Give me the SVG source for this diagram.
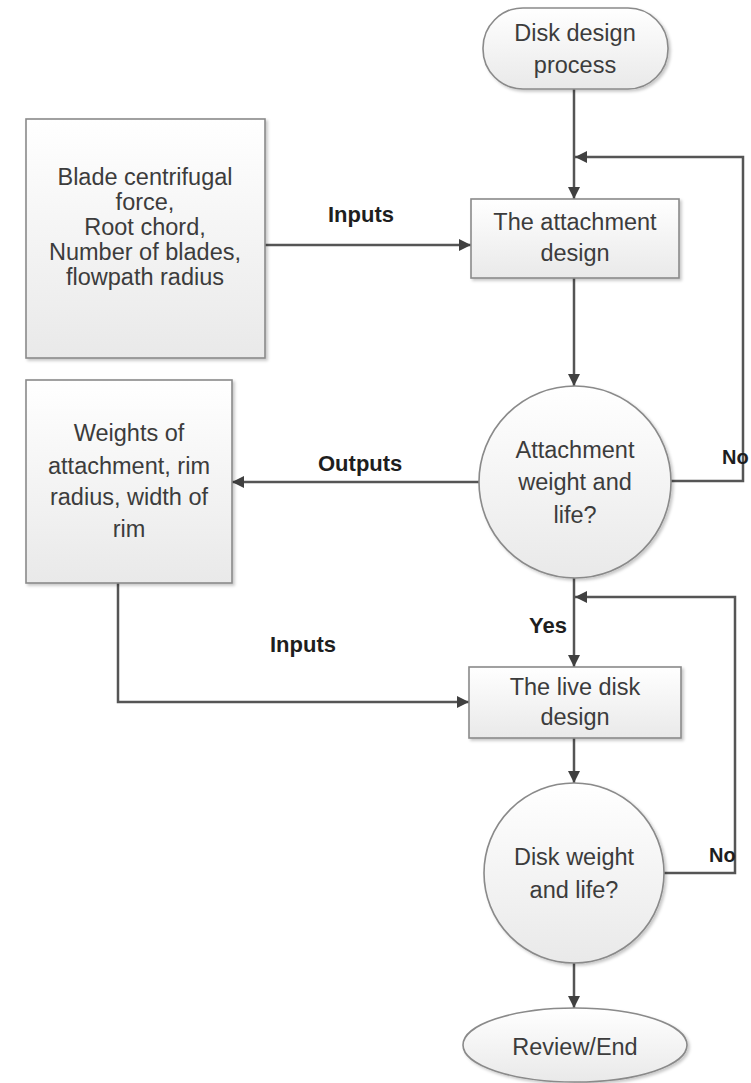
<svg xmlns="http://www.w3.org/2000/svg" width="751" height="1083" viewBox="0 0 751 1083">
<defs>
<linearGradient id="g" x1="0" y1="0" x2="0" y2="1">
<stop offset="0" stop-color="#ffffff"/>
<stop offset="1" stop-color="#e9e9e9"/>
</linearGradient>
<filter id="sh" x="-10%" y="-10%" width="125%" height="125%">
<feDropShadow dx="2" dy="2" stdDeviation="1.5" flood-color="#000" flood-opacity="0.22"/>
</filter>
<marker id="arr" viewBox="0 0 10 10" refX="10" refY="5" markerWidth="12" markerHeight="12" markerUnits="userSpaceOnUse" orient="auto">
<path d="M0,0 L10,5 L0,10 z" fill="#404040"/>
</marker>
</defs>
<style>
.n{fill:url(#g);stroke:#8a8a8a;stroke-width:1.6;filter:url(#sh)}
.t{font-family:"Liberation Sans",Arial,sans-serif;font-size:23.5px;fill:#3c3c3c;text-anchor:middle}
.l{font-family:"Liberation Sans",Arial,sans-serif;font-size:22px;font-weight:bold;fill:#1e1e1e}
.c{fill:none;stroke:#555555;stroke-width:2.5;marker-end:url(#arr)}
</style>
<rect width="751" height="1083" fill="#ffffff"/>
<g id="connectors">
<path class="c" d="M574,89 V199"/>
<path class="c" d="M671,481 H743 V157 H575"/>
<path class="c" d="M265,245 H471"/>
<path class="c" d="M574,278 V386"/>
<path class="c" d="M479,482 H232"/>
<path class="c" d="M118,577 V702 H469"/>
<path class="c" d="M574,577 V667"/>
<path class="c" d="M664,873 H735 V597 H575"/>
<path class="c" d="M574,738 V783"/>
<path class="c" d="M574,963 V1008"/>
</g>
<g id="labels">
<text class="l" x="328" y="222">Inputs</text>
<text class="l" x="318" y="471">Outputs</text>
<text class="l" x="722" y="464" style="font-size:20px">No</text>
<text class="l" x="270" y="652">Inputs</text>
<text class="l" x="529" y="633">Yes</text>
<text class="l" x="709" y="862" style="font-size:20px">No</text>
</g>
<g id="start">
<rect class="n" x="483" y="8" width="185" height="81" rx="40" ry="40"/>
<text class="t" x="575" y="41">Disk design</text>
<text class="t" x="575" y="73">process</text>
</g>
<g id="attachment-design">
<rect class="n" x="471" y="199" width="208" height="79"/>
<text class="t" x="575" y="230">The attachment</text>
<text class="t" x="575" y="261">design</text>
</g>
<g id="inputs-1">
<rect class="n" x="26" y="119" width="239" height="239"/>
<text class="t" x="145" y="185">Blade centrifugal</text>
<text class="t" x="145" y="210">force,</text>
<text class="t" x="145" y="235">Root chord,</text>
<text class="t" x="145" y="260">Number of blades,</text>
<text class="t" x="145" y="285">flowpath radius</text>
</g>
<g id="attachment-check">
<circle class="n" cx="575" cy="482" r="96"/>
<text class="t" x="575" y="458">Attachment</text>
<text class="t" x="575" y="490">weight and</text>
<text class="t" x="575" y="523">life?</text>
</g>
<g id="outputs">
<rect class="n" x="26" y="380" width="206" height="203"/>
<text class="t" x="129" y="441">Weights of</text>
<text class="t" x="129" y="474">attachment, rim</text>
<text class="t" x="129" y="505">radius, width of</text>
<text class="t" x="129" y="537">rim</text>
</g>
<g id="live-disk-design">
<rect class="n" x="469" y="667" width="212" height="71"/>
<text class="t" x="575" y="695">The live disk</text>
<text class="t" x="575" y="725">design</text>
</g>
<g id="disk-check">
<circle class="n" cx="574" cy="873" r="90"/>
<text class="t" x="574" y="865">Disk weight</text>
<text class="t" x="574" y="898">and life?</text>
</g>
<g id="end">
<ellipse class="n" cx="575" cy="1045" rx="112" ry="37"/>
<text class="t" x="575" y="1055">Review/End</text>
</g>
</svg>
